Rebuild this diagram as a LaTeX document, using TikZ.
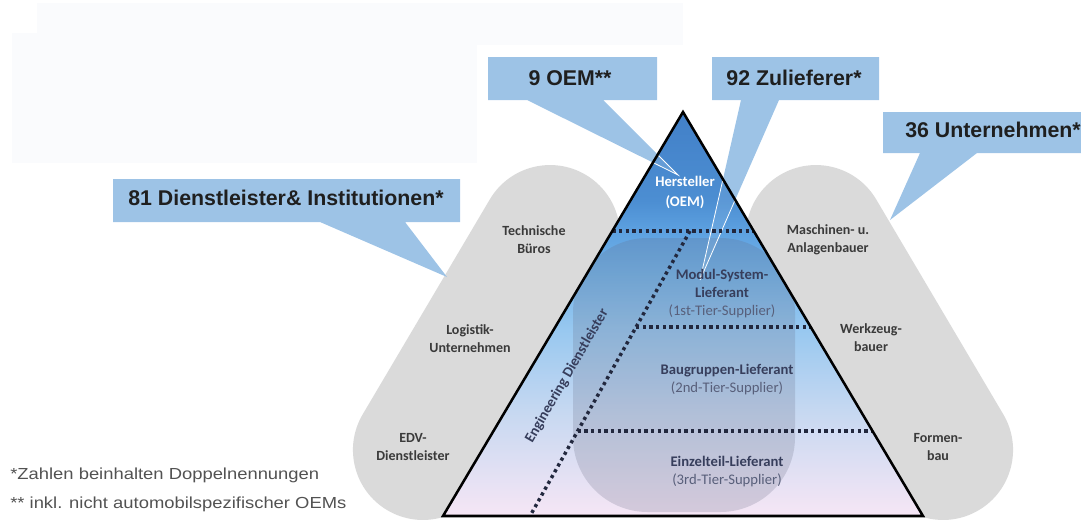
\documentclass[tikz,border=0pt]{standalone}
\usepackage{fontspec}
\usepackage{graphicx}
\setmainfont{Liberation Sans}
\newfontfamily\calfont{Carlito}
\usetikzlibrary{calc}

% palette
\definecolor{calloutblue}{RGB}{157,195,230}
\definecolor{capgray}{RGB}{218,218,218}
\definecolor{dotnavy}{RGB}{34,40,62}
\definecolor{labeldark}{RGB}{55,62,92}
\definecolor{labelsoft}{RGB}{88,95,122}
\definecolor{capstext}{RGB}{58,58,58}
\definecolor{notegray}{RGB}{82,82,82}
\definecolor{haze}{RGB}{250,251,253}
\definecolor{innergray}{RGB}{100,104,128}
\definecolor{pyrA}{RGB}{66,128,200}
\definecolor{pyrAA}{RGB}{76,142,210}
\definecolor{pyrBB}{RGB}{94,162,225}
\definecolor{pyrB}{RGB}{115,180,233}
\definecolor{pyrC}{RGB}{152,200,240}
\definecolor{pyrD}{RGB}{198,216,241}
\definecolor{pyrE}{RGB}{246,230,245}

% pyramid gradient: 25bp = base, 75bp = apex
\pgfdeclareverticalshading{pyramidfill}{100bp}{%
  color(0bp)=(pyrE); color(25bp)=(pyrE); color(38bp)=(pyrD);
  color(48bp)=(pyrC); color(55bp)=(pyrB); color(60bp)=(pyrBB);
  color(64bp)=(pyrAA); color(75bp)=(pyrA); color(100bp)=(pyrA)}

\tikzset{
  callout/.style={fill=calloutblue},
  calltext/.style={font=\fontsize{16}{19}\selectfont\bfseries, text=black!88, inner sep=0, anchor=base},
  caplabel/.style={font=\calfont\bfseries\fontsize{10.5}{13.5}\selectfont, text=capstext, align=center, inner sep=0},
  tierlabel/.style={font=\calfont\fontsize{11}{13.5}\selectfont, text=labelsoft, align=center, inner sep=0},
  tierline/.style={draw=dotnavy, line width=2.6pt, dash pattern=on 2.4pt off 2.6pt},
  note/.style={font=\fontsize{12}{14}\selectfont, text=notegray, anchor=base west, inner sep=0},
  tailedge/.style={draw=white, line width=0.6pt},
}

\begin{document}
\begin{tikzpicture}[x=0.75pt, y=-0.75pt]
\useasboundingbox (0,0) rectangle (1081,521);
\clip (0,0) rectangle (1081,521);

% faint backdrop panels
\fill[haze] (37,3) rectangle (683,45);
\fill[haze] (12,33) rectangle (477,163);

% side capsules
\begin{scope}[shift={(486.5,342.5)}, rotate=-30.6]
  \fill[capgray] (-70,-124.85) -- (-70,124.85) arc[start angle=180, end angle=0, radius=70]
    -- (70,-124.85) arc[start angle=0, end angle=-180, radius=70] -- cycle;
\end{scope}
\begin{scope}[shift={(879.5,342.5)}, rotate=30.6]
  \fill[capgray] (-70,-124.85) -- (-70,124.85) arc[start angle=180, end angle=0, radius=70]
    -- (70,-124.85) arc[start angle=0, end angle=-180, radius=70] -- cycle;
\end{scope}

% callout tips
\coordinate (oemtip) at (678,175);
\coordinate (zultip) at (700,280);
\coordinate (diltip) at (447,277);
\coordinate (untip) at (890,220);

% callout balloons
\fill[callout] (488,57) -- (657,57) -- (657,100) -- (603,100) -- (oemtip) -- (527,100) -- (488,100) -- cycle;
\fill[callout] (712,57) -- (879,57) -- (879,100) -- (779,100) -- (zultip) -- (741,100) -- (712,100) -- cycle;
\fill[callout] (113,179) -- (460,179) -- (460,222) -- (405,222) -- (diltip) -- (320,222) -- (113,222) -- cycle;
\fill[callout] (883,112) -- (1095,112) -- (1095,153) -- (977,153) -- (untip) -- (920,153) -- (883,153) -- cycle;

% pyramid
\coordinate (apex) at (683,112);
\coordinate (bl) at (443,516);
\coordinate (br) at (923,516);
\shade[shading=pyramidfill] (apex) -- (br) -- (bl) -- cycle;

\begin{scope}
  \clip (apex) -- (br) -- (bl) -- cycle;
  % supplier core zone
  \fill[innergray, fill opacity=0.22, rounded corners=56pt] (573,238) rectangle (795,512);
  % balloon tails seen through the pyramid
  \fill[calloutblue, fill opacity=0.35] (527,100) -- (oemtip) -- (603,100) -- cycle;
  \fill[calloutblue, fill opacity=0.2] (741,100) -- (zultip) -- (779,100) -- cycle;
  \draw[tailedge] (527,100) -- (oemtip) -- (603,100);
  \draw[tailedge] (741,100) -- (zultip) -- (779,100);
\end{scope}

% tier boundaries
\coordinate (t1l) at (612.3,231);
\coordinate (t1r) at (753.7,231);
\coordinate (eng0) at (690,231);
\coordinate (eng1) at (530,516);
\coordinate (t2l) at (636.1,327);
\coordinate (t2r) at (810.7,327);
\coordinate (t3l) at (577.7,431);
\coordinate (t3r) at (872.5,431);
\draw[tierline] (t1l) -- (t1r);
\draw[tierline] (t2l) -- (t2r);
\draw[tierline] (t3l) -- (t3r);
\draw[tierline] (eng0) -- (eng1);

\draw[black, line width=1.9pt, line join=miter] (apex) -- (br) -- (bl) -- cycle;

% balloon texts
\node[calltext] (oem) at (570,85) {9 OEM**};
\node[calltext] (zul) at (794,85) {92 Zulieferer*};
\node[calltext] (dil) at (286,205) {81 Dienstleister\& Institutionen*};
\node[calltext, anchor=base west] (unt) at (905,137) {36 Unternehmen*};

% pyramid labels
\node[tierlabel, text=white, font=\calfont\bfseries\fontsize{11}{15}\selectfont] (hst) at (685,192) {Hersteller\\(OEM)};
\node[tierlabel] (tier1) at (722,294) {\textcolor{labeldark}{\bfseries Modul-System-}\\\textcolor{labeldark}{\bfseries Lieferant}\\(1st-Tier-Supplier)};
\node[tierlabel] (tier2) at (727,380) {\textcolor{labeldark}{\bfseries Baugruppen-Lieferant}\\(2nd-Tier-Supplier)};
\node[tierlabel] (tier3) at (727,472) {\textcolor{labeldark}{\bfseries Einzelteil-Lieferant}\\(3rd-Tier-Supplier)};
\node[tierlabel, text=labeldark, font=\calfont\bfseries\fontsize{11}{13.5}\selectfont, rotate=60] (eng) at (567,376) {Engineering Dienstleister};

% capsule labels
\node[caplabel] (tb) at (534,240) {Technische\\Büros};
\node[caplabel] (lu) at (470,339) {Logistik-\\Unternehmen};
\node[caplabel] (edv) at (413,447) {EDV-\\Dienstleister};
\node[caplabel] (mab) at (828,240) {Maschinen- u.\\Anlagenbauer};
\node[caplabel] (wzb) at (871,338) {Werkzeug-\\bauer};
\node[caplabel] (fmb) at (938,447) {Formen-\\bau};

% footnotes
\node[note] (n1) at (10,479) {\scalebox{1.15}[1]{*Zahlen beinhalten Doppelnennungen}};
\node[note] (n2) at (10,508) {\scalebox{1.15}[1]{** inkl. nicht automobilspezifischer OEMs}};
\end{tikzpicture}
\end{document}
